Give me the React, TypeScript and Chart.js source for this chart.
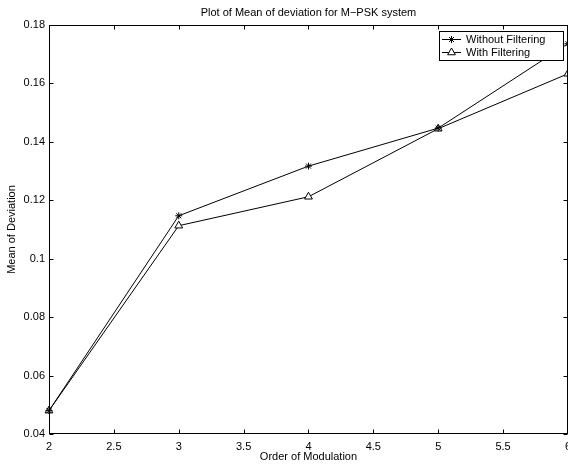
import React, { useEffect, useRef } from "react";
import { Chart, registerables } from "chart.js";

Chart.register(...registerables);

const orders = [2, 3, 4, 5, 6];
const withoutFiltering = [0.048, 0.1147, 0.1317, 0.1447, 0.1736];
const withFiltering = [0.048, 0.1113, 0.1212, 0.1445, 0.1633];
const xTicks = [2, 2.5, 3, 3.5, 4, 4.5, 5, 5.5, 6];
const yTicks = [0.04, 0.06, 0.08, 0.1, 0.12, 0.14, 0.16, 0.18];
const seriesLabels = ["Without Filtering", "With Filtering"];
const titleText = "Plot of Mean of deviation for M\u2212PSK system";
const xTitle = "Order of Modulation";
const yTitle = "Mean of Deviation";

const FONT = "'Liberation Sans', Arial, Helvetica, sans-serif";

function drawStar(ctx: CanvasRenderingContext2D, x: number, y: number, r: number) {
  ctx.beginPath();
  ctx.moveTo(x - r, y);
  ctx.lineTo(x + r, y);
  ctx.moveTo(x, y - r);
  ctx.lineTo(x, y + r);
  const d = r * 0.7071;
  ctx.moveTo(x - d, y - d);
  ctx.lineTo(x + d, y + d);
  ctx.moveTo(x - d, y + d);
  ctx.lineTo(x + d, y - d);
  ctx.stroke();
}

function drawTriangle(ctx: CanvasRenderingContext2D, x: number, y: number, r: number) {
  ctx.beginPath();
  ctx.moveTo(x, y - r);
  ctx.lineTo(x + r * 0.866, y + r * 0.5);
  ctx.lineTo(x - r * 0.866, y + r * 0.5);
  ctx.closePath();
  ctx.fillStyle = "#fff";
  ctx.fill();
  ctx.stroke();
}

const framePlugin = {
  id: "matlabFrame",
  beforeDraw(chart: any) {
    const { ctx, width, height } = chart;
    ctx.save();
    ctx.fillStyle = "#fff";
    ctx.fillRect(0, 0, width, height);
    ctx.restore();
  },
  afterDraw(chart: any) {
    const { ctx, chartArea } = chart;
    const xs = chart.scales.x;
    const ys = chart.scales.y;
    const L = Math.round(chartArea.left) + 0.5;
    const R = Math.round(chartArea.right) - 0.5;
    const T = Math.round(chartArea.top) + 0.5;
    const B = Math.round(chartArea.bottom) - 0.5;
    const tl = 4;
    ctx.save();
    ctx.strokeStyle = "#000";
    ctx.lineWidth = 1;
    ctx.beginPath();
    xTicks.forEach((v) => {
      const px = Math.round(xs.getPixelForValue(v)) + 0.5;
      ctx.moveTo(px, B);
      ctx.lineTo(px, B - tl);
      ctx.moveTo(px, T);
      ctx.lineTo(px, T + tl);
    });
    yTicks.forEach((v) => {
      const py = Math.round(ys.getPixelForValue(v)) + 0.5;
      ctx.moveTo(L, py);
      ctx.lineTo(L + tl, py);
      ctx.moveTo(R, py);
      ctx.lineTo(R - tl, py);
    });
    ctx.stroke();
    ctx.strokeRect(L, T, R - L, B - T);

    // title
    ctx.fillStyle = "#000";
    ctx.font = `11px ${FONT}`;
    ctx.textAlign = "center";
    ctx.textBaseline = "middle";
    ctx.fillText(titleText, (chartArea.left + chartArea.right) / 2, 13);

    // legend
    const bx = 439.5, by = 31.5, bw = 124, bh = 29;
    ctx.fillStyle = "#fff";
    ctx.fillRect(bx, by, bw, bh);
    ctx.strokeStyle = "#000";
    ctx.strokeRect(bx, by, bw, bh);
    const rows = [39.5, 52.5];
    seriesLabels.forEach((label, i) => {
      const y = rows[i];
      ctx.beginPath();
      ctx.moveTo(442, y);
      ctx.lineTo(461, y);
      ctx.stroke();
      if (i === 0) drawStar(ctx, 451.5, y, 3.5);
      else drawTriangle(ctx, 451.5, y, 4.5);
      ctx.fillStyle = "#000";
      ctx.textAlign = "left";
      ctx.textBaseline = "middle";
      ctx.fillText(label, 466, y);
    });
    ctx.restore();
  },
};

export default function App() {
  const ref = useRef<HTMLCanvasElement | null>(null);
  useEffect(() => {
    if (!ref.current) return;
    const chart = new Chart(ref.current, {
      type: "line",
      data: {
        datasets: [
          {
            label: seriesLabels[0],
            data: orders.map((x, i) => ({ x, y: withoutFiltering[i] })),
            borderColor: "#000",
            backgroundColor: "#000",
            borderWidth: 1,
            pointStyle: "star",
            pointRadius: 3.5,
            pointBorderWidth: 1,
            pointBorderColor: "#000",
            tension: 0,
            clip: false as any,
          },
          {
            label: seriesLabels[1],
            data: orders.map((x, i) => ({ x, y: withFiltering[i] })),
            borderColor: "#000",
            backgroundColor: "#fff",
            borderWidth: 1,
            pointStyle: "triangle",
            pointRadius: 4.5,
            pointBorderWidth: 1,
            pointBorderColor: "#000",
            pointBackgroundColor: "#fff",
            tension: 0,
            clip: false as any,
          },
        ],
      },
      options: {
        responsive: false,
        animation: false,
        events: [],
        layout: { padding: { top: 25, left: 0, right: 0, bottom: 0 } },
        plugins: {
          legend: { display: false },
          title: { display: false },
          tooltip: { enabled: false },
        },
        scales: {
          x: {
            type: "linear",
            min: 2,
            max: 6,
            afterBuildTicks: (s: any) => {
              s.ticks = xTicks.map((v) => ({ value: v }));
            },
            afterFit: (s: any) => {
              s.height = 30;
            },
            grid: { display: false, drawTicks: false },
            border: { display: false },
            ticks: {
              color: "#000",
              padding: 6,
              maxRotation: 0,
              autoSkip: false,
              font: { family: FONT, size: 11 },
              callback: (v: any) => String(Number(Number(v).toFixed(3))),
            },
            title: {
              display: true,
              text: xTitle,
              color: "#000",
              font: { family: FONT, size: 11 },
              padding: { top: 0, bottom: 0.5 },
            },
          },
          y: {
            type: "linear",
            min: 0.04,
            max: 0.18,
            afterBuildTicks: (s: any) => {
              s.ticks = yTicks.map((v) => ({ value: v }));
            },
            afterFit: (s: any) => {
              s.width = 49;
            },
            grid: { display: false, drawTicks: false },
            border: { display: false },
            ticks: {
              color: "#000",
              padding: 4,
              autoSkip: false,
              font: { family: FONT, size: 11 },
              callback: (v: any) => String(Number(Number(v).toFixed(3))),
            },
            title: {
              display: true,
              text: yTitle,
              color: "#000",
              font: { family: FONT, size: 11 },
              padding: { top: 5, bottom: 0 },
            },
          },
        },
      },
      plugins: [framePlugin],
    });
    return () => chart.destroy();
  }, []);
  return (
    <div style={{ position: "fixed", left: 0, top: 0, width: 568, height: 464, overflow: "hidden", background: "#fff" }}>
      <canvas ref={ref} width={577} height={464} style={{ display: "block" }} />
    </div>
  );
}
